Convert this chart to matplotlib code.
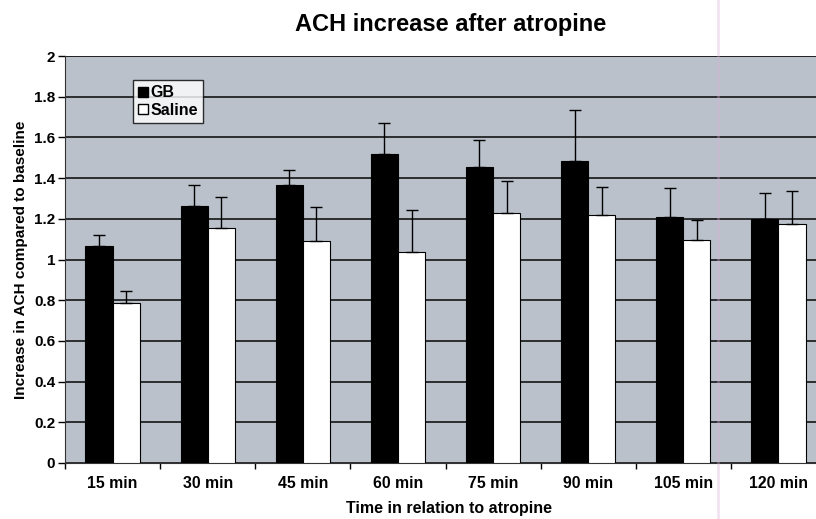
import numpy as np
import matplotlib
matplotlib.use("Agg")
import matplotlib.pyplot as plt
from matplotlib.lines import Line2D
from matplotlib.ticker import FormatStrFormatter

plt.rcParams['font.family'] = ['Liberation Sans', 'DejaVu Sans']
plt.rcParams['font.weight'] = 'bold'
plt.rcParams['axes.labelweight'] = 'bold'

# values
times = ['15 min', '30 min', '45 min', '60 min', '75 min', '90 min', '105 min', '120 min']
gb = [1.066, 1.263, 1.366, 1.518, 1.455, 1.484, 1.209, 1.199]
gb_err = [0.055, 0.103, 0.074, 0.152, 0.132, 0.251, 0.142, 0.128]
saline = [0.786, 1.155, 1.090, 1.037, 1.228, 1.219, 1.096, 1.174]
saline_err = [0.059, 0.152, 0.168, 0.206, 0.158, 0.137, 0.098, 0.163]

fig = plt.figure(figsize=(8.16, 5.19), dpi=100)
ax = fig.add_axes([65/816, 56/519, 761/816, 407/519])
ax.set_facecolor('#bac1ca')

x = np.arange(len(times))
w = 1/3.5
ax.set_axisbelow(True)
ax.yaxis.grid(True, color='#222222', linewidth=1.3)

ax.bar(x - w/2, gb, w, color='black', edgecolor='black', linewidth=0.8, zorder=3)
ax.bar(x + w/2, saline, w, color='white', edgecolor='black', linewidth=0.8, zorder=3)
zero = [0]*len(times)
ax.errorbar(x - w/2, gb, yerr=[zero, gb_err], fmt='none', ecolor='black',
            elinewidth=1, capsize=4, capthick=1, zorder=4)
ax.errorbar(x + w/2, saline, yerr=[zero, saline_err], fmt='none', ecolor='black',
            elinewidth=1, capsize=4, capthick=1, zorder=4)

ax.set_xlim(-0.5, len(times) - 0.5)
ax.set_ylim(0, 2)
ax.set_yticks(np.arange(0, 2.01, 0.2))
ax.yaxis.set_major_formatter(FormatStrFormatter('%g'))
ax.tick_params(axis='y', direction='out', length=5, width=1, labelsize=11, pad=2)

ax.set_xticks(np.arange(-0.5, len(times), 1))
ax.set_xticklabels([])
ax.tick_params(axis='x', which='major', direction='out', length=4, width=1)
ax.set_xticks(x, minor=True)
ax.set_xticklabels(times, minor=True, fontsize=11.4)
ax.tick_params(axis='x', which='minor', length=0, pad=9)

for s in ['top', 'right']:
    ax.spines[s].set_visible(False)
ax.spines['left'].set_color('#333333')
ax.spines['bottom'].set_color('#333333')
ax.axhline(2, color='#222222', linewidth=1.3)

ax.set_ylabel('Increase in ACH compared to baseline', fontsize=11, labelpad=4)
fig.text(449/816, 1 - 509/519, 'Time in relation to atropine', ha='center', va='center',
         fontsize=11.5, fontweight='bold')
fig.text(451/816, 1 - 24/519, 'ACH increase after atropine', ha='center', va='center',
         fontsize=17, fontweight='bold')

handles = [Line2D([], [], marker='s', linestyle='none', markerfacecolor='black',
                  markeredgecolor='black', markersize=6.5),
           Line2D([], [], marker='s', linestyle='none', markerfacecolor='white',
                  markeredgecolor='black', markersize=6.5)]
leg = ax.legend(handles, ['GB', 'Saline'], loc='upper left',
                bbox_to_anchor=(0.089, 0.942), frameon=True, fancybox=False,
                handlelength=0.6, handletextpad=0.15, borderpad=0.35,
                labelspacing=0.15, borderaxespad=0,
                prop={'weight': 'bold', 'size': 11.5})
leg.get_frame().set_edgecolor('black')
leg.get_frame().set_linewidth(1)
leg.set_zorder(5)

# faint scan streak
fig.add_artist(Line2D([718/816, 718/816], [0, 1], color='#d8b0d8', alpha=0.35,
                      linewidth=2, transform=fig.transFigure))

fig.savefig('out.png', dpi=100)
